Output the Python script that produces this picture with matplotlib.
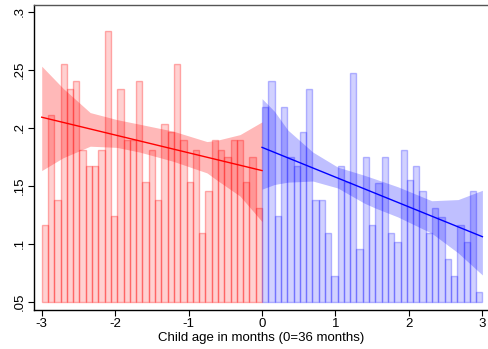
import numpy as np
import matplotlib
matplotlib.use("Agg")
import matplotlib.pyplot as plt

plt.rcParams['font.family'] = ['Liberation Sans', 'DejaVu Sans']

# ---- data ----
n_bins = 35
left_vals = [.116, .211, .138, .255, .233, .240, .181, .167, .167, .181,
             .283, .124, .233, .189, .189, .240, .153, .181, .138, .203,
             .196, .255, .189, .153, .181, .109, .145, .189, .181, .175,
             .189, .189, .153, .175, .131]
right_vals = [.218, .240, .124, .218, .175, .167, .196, .233, .138, .138,
              .109, .072, .167, .153, .247, .095, .175, .116, .152, .175,
              .109, .101, .181, .155, .167, .145, .109, .131, .123, .087,
              .072, .116, .101, .145, .058]

red_band_x = [-3.0, -2.71, -2.34, -1.98, -1.67, -1.21, -0.75, -0.62, -0.30, 0.0]
red_band_hi = [.253, .234, .213, .207, .203, .197, .188, .189, .194, .205]
red_band_lo = [.163, .174, .184, .183, .179, .171, .161, .155, .141, .119]

blue_band_x = [0.0, 0.17, 0.35, 0.69, 1.03, 1.39, 1.53, 1.85, 2.31, 2.67, 3.0]
blue_band_hi = [.225, .214, .198, .179, .166, .159, .156, .149, .137, .138, .146]
blue_band_lo = [.147, .151, .153, .154, .148, .135, .131, .123, .109, .092, .073]

red_line_x = [-3.0, 0.0]
red_line_y = [.209, .163]
blue_line_x = [0.0, 3.0]
blue_line_y = [.183, .106]

xticks = [-3, -2, -1, 0, 1, 2, 3]
yticks = [.05, .1, .15, .2, .25, .3]
ytick_labels = ['.05', '.1', '.15', '.2', '.25', '.3']
xlabel = "Child age in months (0=36 months)"
base = 0.05

# ---- figure ----
fig = plt.figure(figsize=(4.89, 3.49), dpi=100)
ax = fig.add_axes([34/489, 1-310/349, 1-34/489, (310-4.7)/349])

w = 3.0 / n_bins
lx = [-3 + i * w for i in range(n_bins)]
rx = [0 + i * w for i in range(n_bins)]

ax.bar(lx, [v - base for v in left_vals], bottom=base, width=w, align='edge',
       facecolor=(1, 0, 0, 0.18), edgecolor=(1, 0, 0, 0.30), linewidth=1.0, zorder=2)
ax.bar(rx, [v - base for v in right_vals], bottom=base, width=w, align='edge',
       facecolor=(0, 0, 1, 0.18), edgecolor=(0, 0, 1, 0.26), linewidth=1.0, zorder=2)

ax.fill_between(red_band_x, red_band_lo, red_band_hi, color='red', alpha=0.28,
                linewidth=0, zorder=3)
ax.fill_between(blue_band_x, blue_band_lo, blue_band_hi, color='blue', alpha=0.25,
                linewidth=0, zorder=3)

ax.plot(red_line_x, red_line_y, color='red', linewidth=1.0, zorder=4)
ax.plot(blue_line_x, blue_line_y, color='blue', linewidth=1.0, zorder=4)

ax.set_xlim(-3.105, 3.09)
ax.set_ylim(0.0428, 0.306)

ax.set_xticks(xticks)
ax.set_xticklabels([str(t) for t in xticks])
ax.set_yticks(yticks)
ax.set_yticklabels(ytick_labels, rotation=90, va='center')
ax.tick_params(axis='both', direction='out', length=4, width=0.8, labelsize=9.5,
               colors='black', pad=2)
ax.set_xlabel(xlabel, fontsize=9.5, labelpad=1)

for s in ['left', 'bottom']:
    ax.spines[s].set_color('black')
    ax.spines[s].set_linewidth(1.0)
ax.spines['top'].set_color('#555555')
ax.spines['top'].set_linewidth(1.0)
ax.spines['right'].set_visible(False)

fig.savefig('out.png', dpi=100)
